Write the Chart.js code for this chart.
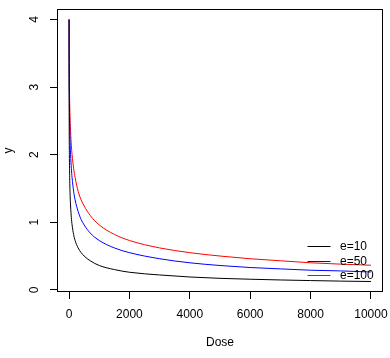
<!DOCTYPE html>
<html><head><meta charset="utf-8">
<script src="https://cdn.jsdelivr.net/npm/chart.js@4/dist/chart.umd.min.js"></script>
<style>html,body{margin:0;padding:0;background:#fff;overflow:hidden}canvas{display:block}</style>
</head><body>
<canvas id="c" width="390" height="358" style="width:390px;height:358px"></canvas>
<script>
// Data
const doses = [0,1,2,5,10,20,35,50,75,100,150,200,300,400,500,700,1000,1500,2000,3000,4000,5000,6000,7000,8000,9000,10000];
const yE10  = [4,3.04,2.76,2.34,2.00,1.66,1.39,1.24,1.07,0.96,0.82,0.73,0.62,0.55,0.50,0.43,0.36,0.30,0.26,0.22,0.19,0.17,0.157,0.146,0.137,0.129,0.123];
const yE50  = [4,3.50,3.33,3.04,2.76,2.45,2.18,2.00,1.80,1.66,1.46,1.33,1.16,1.04,0.96,0.84,0.73,0.62,0.55,0.46,0.40,0.36,0.33,0.31,0.29,0.28,0.264];
const yE100 = [4,3.64,3.50,3.27,3.04,2.76,2.51,2.34,2.14,2.00,1.80,1.66,1.46,1.33,1.24,1.10,0.96,0.82,0.73,0.62,0.55,0.50,0.46,0.43,0.40,0.38,0.364];
const seriesLabels = ['e=10','e=50','e=100'];
const seriesColors = ['#000000','#0000ff','#ff0000'];
const xTicks = [0,2000,4000,6000,8000,10000];
const yTicks = [0,1,2,3,4];
const xTitle = 'Dose';
const yTitle = 'y';

const FONT = "'Liberation Sans', Arial, Helvetica, sans-serif";
Chart.defaults.font.family = FONT;
Chart.defaults.font.size = 12;
Chart.defaults.color = '#000';

const toPts = ys => doses.map((d, i) => ({x: d, y: ys[i]}));
const allY = yE10.concat(yE50, yE100);
const yMinD = Math.min(...allY), yMaxD = Math.max(...allY);
const yPad = (yMaxD - yMinD) * 0.04;
const xPad = (doses[doses.length-1] - doses[0]) * 0.04;

const boxPlugin = {
  id: 'box',
  afterDraw(chart) {
    const {ctx, chartArea: a} = chart;
    ctx.save();
    ctx.strokeStyle = '#000';
    ctx.lineWidth = 1;
    ctx.strokeRect(Math.round(a.left) + 0.5, Math.round(a.top) + 0.5, Math.round(a.right - a.left) - 1, Math.round(a.bottom - a.top) - 1);
    ctx.restore();
  }
};

const legendPlugin = {
  id: 'rlegend',
  afterDraw(chart) {
    const {ctx, chartArea: a} = chart;
    const ds = chart.data.datasets;
    ctx.save();
    ctx.font = '12px ' + FONT;
    ctx.textBaseline = 'middle';
    ctx.textAlign = 'left';
    const rowH = 14.4;
    const y0 = a.bottom - 17 - rowH * (ds.length - 1);
    const lx0 = a.right - 75.5, lx1 = a.right - 52.5, tx = a.right - 43;
    ds.forEach((d, i) => {
      const y = Math.round(y0 + i * rowH) + 0.5;
      ctx.strokeStyle = seriesColors[i];
      ctx.lineWidth = 1;
      ctx.beginPath(); ctx.moveTo(lx0, y); ctx.lineTo(lx1, y); ctx.stroke();
      ctx.fillStyle = '#000';
      ctx.fillText(seriesLabels[i], tx, y + 0.5);
    });
    ctx.restore();
  }
};

const noPad = s => { s.paddingTop = 0; s.paddingBottom = 0; s.paddingLeft = 0; s.paddingRight = 0; };

new Chart(document.getElementById('c'), {
  type: 'line',
  data: {
    datasets: [yE10, yE50, yE100].map((ys, i) => ({
      label: seriesLabels[i],
      data: toPts(ys),
      borderColor: seriesColors[i],
      backgroundColor: seriesColors[i],
      borderWidth: 1,
      pointRadius: 0,
      fill: false,
      cubicInterpolationMode: 'monotone'
    }))
  },
  options: {
    responsive: false,
    animation: false,
    devicePixelRatio: 1,
    layout: {padding: {top: 9, right: 7, left: 0, bottom: 0}},
    plugins: {legend: {display: false}, tooltip: {enabled: false}},
    scales: {
      x: {
        type: 'linear',
        min: doses[0] - xPad, max: doses[doses.length-1] + xPad,
        afterBuildTicks: s => { s.ticks = xTicks.map(v => ({value: v})); },
        afterFit: s => { s.height = 66; noPad(s); },
        grid: {drawOnChartArea: false, tickLength: 7, color: '#000', lineWidth: 1},
        border: {display: false},
        ticks: {color: '#000', padding: 8, maxRotation: 0, autoSkip: false, callback: v => String(v)},
        title: {display: true, text: xTitle, color: '#000', padding: {top: 0, bottom: 8}}
      },
      y: {
        type: 'linear',
        min: yMinD - yPad, max: yMaxD + yPad,
        afterBuildTicks: s => { s.ticks = yTicks.map(v => ({value: v})); },
        afterFit: s => { s.width = 57; noPad(s); },
        grid: {drawOnChartArea: false, tickLength: 7, color: '#000', lineWidth: 1},
        border: {display: false},
        ticks: {color: '#000', padding: 12, minRotation: 90, maxRotation: 90, crossAlign: 'center', autoSkip: false, callback: v => String(v)},
        title: {display: true, text: yTitle, color: '#000', padding: {top: 1, bottom: 0}}
      }
    }
  },
  plugins: [boxPlugin, legendPlugin]
});
</script>
</body></html>
